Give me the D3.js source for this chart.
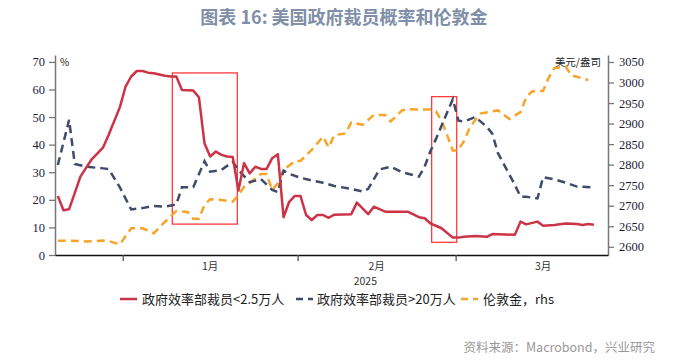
<!DOCTYPE html>
<html><head><meta charset="utf-8">
<script src="https://cdn.jsdelivr.net/npm/d3@7"></script>
<style>body{margin:0;background:#fff} svg{display:block}</style>
</head><body><svg id="c" width="688" height="360"></svg>
<script>
// ---------- data ----------
const redDates = ["2024-12-20","2024-12-21","2024-12-22","2024-12-23","2024-12-24","2024-12-26","2024-12-28","2024-12-29","2024-12-31",
 "2025-01-01","2025-01-02","2025-01-03","2025-01-04","2025-01-05","2025-01-06","2025-01-08","2025-01-09","2025-01-10","2025-01-11",
 "2025-01-13","2025-01-14","2025-01-15","2025-01-16","2025-01-17","2025-01-18","2025-01-19","2025-01-20","2025-01-21","2025-01-22",
 "2025-01-23","2025-01-24","2025-01-25","2025-01-26","2025-01-27","2025-01-28","2025-01-29","2025-01-30","2025-01-31","2025-02-01",
 "2025-02-02","2025-02-03","2025-02-04","2025-02-05","2025-02-06","2025-02-07","2025-02-10","2025-02-11","2025-02-13","2025-02-14",
 "2025-02-16","2025-02-20","2025-02-22","2025-02-23","2025-02-24","2025-02-25","2025-02-26","2025-02-28","2025-03-01","2025-03-02",
 "2025-03-04","2025-03-06","2025-03-07","2025-03-11","2025-03-12","2025-03-13","2025-03-15","2025-03-16","2025-03-18","2025-03-20",
 "2025-03-22","2025-03-23","2025-03-24","2025-03-25"];
const redValues = [21.4,16.2,16.6,22.4,28.4,34.7,38.9,43.5,53.6,
 61.0,64.7,66.7,66.7,66.1,65.9,65.0,64.7,64.7,59.8,
 59.6,57.2,40.4,35.7,37.5,36.3,35.7,35.5,23.4,33.3,
 29.6,32.0,31.2,31.2,35.1,36.5,13.7,19.3,21.4,21.4,
 14.5,12.7,14.5,14.5,13.5,14.6,14.8,19.0,14.8,17.5,
 15.7,15.7,13.7,13.3,11.5,10.6,9.7,6.3,6.3,6.6,
 6.9,6.6,7.6,7.3,12.1,11.1,12.1,10.6,10.9,11.4,
 11.2,10.9,11.2,11.0];

const navyDates = ["2024-12-20","2024-12-22","2024-12-23","2024-12-25","2024-12-28","2024-12-29","2024-12-31",
 "2025-01-02","2025-01-04","2025-01-06","2025-01-08","2025-01-10","2025-01-11","2025-01-13","2025-01-15","2025-01-16",
 "2025-01-18","2025-01-20","2025-01-21","2025-01-23","2025-01-25","2025-01-27","2025-01-28","2025-01-29","2025-01-30",
 "2025-02-01","2025-02-03","2025-02-05","2025-02-07","2025-02-10","2025-02-12","2025-02-13","2025-02-15","2025-02-17",
 "2025-02-19","2025-02-22","2025-02-23","2025-02-24","2025-02-25","2025-02-28","2025-03-01","2025-03-02","2025-03-04",
 "2025-03-06","2025-03-07","2025-03-08","2025-03-11","2025-03-12","2025-03-13","2025-03-15","2025-03-16","2025-03-18",
 "2025-03-20","2025-03-22","2025-03-25"];
const navyValues = [32.6,49.0,33.0,32.0,31.4,31.2,24.5,
 16.5,17.0,17.8,17.5,18.3,24.6,24.6,34.0,30.2,
 30.8,33.8,30.8,26.4,27.5,23.6,22.8,30.6,29.4,
 28.0,27.0,26.2,25.0,24.0,23.0,24.0,31.0,32.0,
 30.0,28.4,32.0,37.5,42.0,56.5,48.7,48.4,50.0,
 46.5,44.0,36.9,25.4,21.1,21.1,20.5,28.2,27.4,
 26.2,24.8,24.5];

const goldDates = ["2024-12-20","2024-12-22","2024-12-25","2024-12-28","2024-12-29","2024-12-31",
 "2025-01-02","2025-01-04","2025-01-06","2025-01-08","2025-01-10","2025-01-12","2025-01-13","2025-01-14","2025-01-15",
 "2025-01-16","2025-01-18","2025-01-20","2025-01-21","2025-01-22","2025-01-23","2025-01-24","2025-01-25","2025-01-26",
 "2025-01-27","2025-01-28","2025-01-29","2025-01-31","2025-02-01","2025-02-03","2025-02-05","2025-02-06","2025-02-07",
 "2025-02-09","2025-02-10","2025-02-12","2025-02-14","2025-02-16","2025-02-17","2025-02-19","2025-02-20","2025-02-22",
 "2025-02-24","2025-02-25","2025-02-26","2025-02-27","2025-02-28","2025-03-01","2025-03-02","2025-03-03","2025-03-04",
 "2025-03-05","2025-03-08","2025-03-10","2025-03-12","2025-03-13","2025-03-14","2025-03-16","2025-03-17","2025-03-18",
 "2025-03-20","2025-03-21","2025-03-22","2025-03-24"];
const goldValues = [2615,2615,2613,2615,2614,2606,
 2645,2645,2633,2661,2687,2685,2668,2668,2702,
 2716,2714,2710,2726,2746,2755,2767,2777,2777,
 2738,2755,2787,2809,2809,2836,2868,2842,2872,
 2876,2903,2897,2921,2921,2905,2932,2935,2934,
 2934,2930,2907,2872,2834,2836,2858,2890,2909,
 2925,2932,2911,2928,2964,2978,2980,3012,3035,
 3039,3017,3014,3006];

const leftTicks = [0,10,20,30,40,50,60,70];
const rightTicks = [2600,2650,2700,2750,2800,2850,2900,2950,3000,3050];
const monthStarts = ["2025-01-01","2025-02-01","2025-03-01","2025-04-01"];
const monthLabels = ["1月","2月","3月"];
const yearLabel = "2025";
const seriesNames = ["政府效率部裁员<2.5万人","政府效率部裁员>20万人","伦敦金，rhs"];
// highlight boxes: [start, end, low %, high %]
const boxStart = ["2025-01-09 19:00","2025-02-24 18:00"];
const boxEnd = ["2025-01-21 07:30","2025-03-01 04:30"];
const boxLow = [11.2, 4.6];
const boxHigh = [66.0, 57.4];

// ---------- chart ----------
const pd = d3.timeParse("%Y-%m-%d");
const pdt = d3.timeParse("%Y-%m-%d %H:%M");
const svg = d3.select("#c");
const L = 55, R = 608, T = 55, B = 255;

const x = d3.scaleTime().domain([pd("2024-12-20"), pd("2025-03-28")]).range([L, R]);
const yL = d3.scaleLinear().domain([0, 72.5]).range([B, T]);
const yR = d3.scaleLinear().domain([2580, 3067]).range([B, T]);
const xp = s => x(d3.timeHour.offset(pd(s), 12));

const red = "#cc3347", navy = "#3f4b6a", gold = "#f7a52a";
const fontCJK = "'Noto Sans CJK SC','Noto Sans',sans-serif";
const fontNum = "'Liberation Serif','DejaVu Serif',serif";

// title
svg.append("text").attr("x", 344).attr("y", 24).attr("text-anchor", "middle")
  .style("font-family", fontCJK).attr("font-weight", "bold").attr("font-size", 18)
  .attr("fill", "#7f8fa8").text("图表 16: 美国政府裁员概率和伦敦金");

// axes
const ax = svg.append("g");
const gl = ax.append("g").attr("transform", `translate(${L},0)`)
  .call(d3.axisLeft(yL).tickValues(leftTicks).tickFormat(d3.format("d")).tickSize(6).tickSizeOuter(0).tickPadding(4));
const gr = ax.append("g").attr("transform", `translate(${R},0)`)
  .call(d3.axisRight(yR).tickValues(rightTicks).tickFormat(d3.format("d")).tickSize(6).tickSizeOuter(0).tickPadding(5));
const gb = ax.append("g").attr("transform", `translate(0,${B})`)
  .call(d3.axisBottom(x).tickValues(monthStarts.slice(0,3).map(pd)).tickSize(6).tickSizeOuter(0).tickFormat(""));
[gl, gr].forEach(g => {
  g.attr("font-family", null);
  g.select(".domain").attr("stroke", "#777").attr("stroke-width", 1.5);
  g.selectAll(".tick line").attr("stroke", "#777").attr("stroke-width", 1.3);
  g.selectAll(".tick text").style("font-family", fontNum).style("font-size", "12.5px").attr("fill", "#1c1c38");
});
gb.select(".domain").attr("stroke", "#111").attr("stroke-width", 1.5);
gb.selectAll(".tick line").attr("stroke", "#555").attr("stroke-width", 1.3);

monthLabels.forEach((m, i) => {
  const a = x(pd(monthStarts[i])), b = x(pd(monthStarts[i+1]));
  svg.append("text").attr("x", (a+b)/2).attr("y", 270).attr("text-anchor", "middle")
    .style("font-family", fontCJK).attr("font-size", 10.5).attr("fill", "#333").text(m);
});
svg.append("text").attr("x", (x(pd(monthStarts[0])) + R)/2).attr("y", 285).attr("text-anchor", "middle")
  .style("font-family", fontCJK).attr("font-size", 10.5).attr("fill", "#333").text(yearLabel);

// unit labels
svg.append("text").attr("x", 60).attr("y", 66).style("font-family", fontCJK).attr("font-size", 10)
  .attr("fill", "#222").text("%");
svg.append("text").attr("x", 601).attr("y", 66).attr("text-anchor", "end").style("font-family", fontCJK)
  .attr("font-size", 10.5).attr("fill", "#222").text("美元/盎司");

// boxes
boxStart.forEach((s, i) => {
  const x0 = x(pdt(s)), x1 = x(pdt(boxEnd[i]));
  const y0 = yL(boxHigh[i]), y1 = yL(boxLow[i]);
  svg.append("rect").attr("x", x0).attr("y", y0).attr("width", x1 - x0).attr("height", y1 - y0)
    .attr("fill", "none").attr("stroke", "#ff3b3b").attr("stroke-width", 1.3);
});

// lines
const mk = (dates, vals, ys) => dates.map((d, i) => [xp(d), ys(vals[i])]);
const line = d3.line();
svg.append("path").attr("d", line(mk(goldDates, goldValues, yR))).attr("fill", "none")
  .attr("stroke", gold).attr("stroke-width", 2.5).attr("stroke-dasharray", "8,5");
svg.append("path").attr("d", line(mk(navyDates, navyValues, yL))).attr("fill", "none")
  .attr("stroke", navy).attr("stroke-width", 2.5).attr("stroke-dasharray", "8,5");
svg.append("path").attr("d", line(mk(redDates, redValues, yL))).attr("fill", "none")
  .attr("stroke", red).attr("stroke-width", 2.5).attr("stroke-linejoin", "round");

// legend
const lg = svg.append("g").style("font-family", fontCJK).attr("font-size", 13).attr("fill", "#222");
const items = [
  {c: red, dash: null, x: 120, tx: 142},
  {c: navy, dash: "7,5", x: 296, tx: 317},
  {c: gold, dash: "7,5", x: 461, tx: 483}
];
items.forEach((it, i) => {
  lg.append("line").attr("x1", it.x).attr("x2", it.x + 17).attr("y1", 299).attr("y2", 299)
    .attr("stroke", it.c).attr("stroke-width", 2.5).attr("stroke-dasharray", it.dash);
  lg.append("text").attr("x", it.tx).attr("y", 304).text(seriesNames[i]);
});

// source
svg.append("text").attr("x", 655).attr("y", 352).attr("text-anchor", "end")
  .style("font-family", fontCJK).attr("font-size", 12.5).attr("fill", "#999")
  .text("资料来源：Macrobond，兴业研究");
</script></body></html>
